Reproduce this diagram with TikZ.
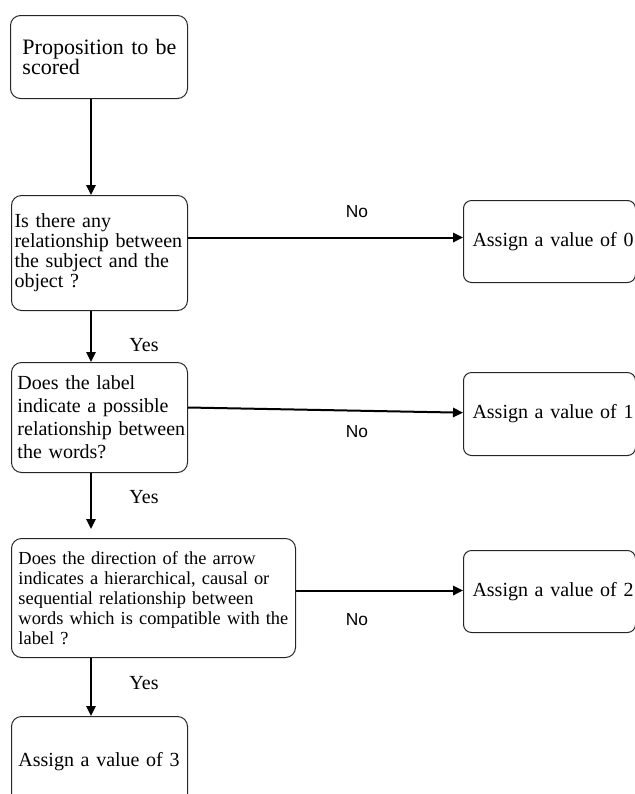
\documentclass[tikz,border=0pt]{standalone}
\usepackage{fontspec}
\setmainfont{Liberation Serif}
\newfontfamily\nofont{Liberation Sans}
\usetikzlibrary{arrows.meta}
\begin{document}
\begin{tikzpicture}[x=0.75pt,y=-0.75pt,
  box/.style={draw=black!85, line width=0.75pt, rounded corners=7.5pt, anchor=north west, align=left, inner ysep=0pt},
  vbox/.style={box, rounded corners=6pt, minimum width=129pt, inner xsep=6.75pt, text width=115.5pt, font=\fontsize{15}{15}\selectfont},
  arr/.style={line width=1.5pt, -{Triangle[length=7.5pt,width=7pt]}},
  yes/.style={inner sep=0pt, font=\fontsize{15}{15}\selectfont},
  no/.style={inner sep=0pt, font=\nofont\fontsize{13}{13}\selectfont}]
\useasboundingbox (0,0) rectangle (635,794);
\clip (0,0) rectangle (635,794);

\node[box, minimum width=132.75pt, minimum height=62.25pt, inner xsep=9pt, text width=114.75pt,
  font=\fontsize{16.5}{15}\selectfont] (b1) at (10,15) {\mbox{Proposition to be}\\ \mbox{scored}};
\node[box, minimum width=132pt, minimum height=86.25pt, inner xsep=2.25pt, text width=127.5pt,
  font=\fontsize{15}{15}\selectfont] (b2) at (11,195) {\mbox{Is there any}\\ \mbox{relationship between}\\ \mbox{the subject and the}\\ \mbox{object ?}\\[2pt]};
\node[box, minimum width=132pt, minimum height=82.5pt, inner xsep=4.5pt, text width=123pt,
  font=\fontsize{15}{17.25}\selectfont] (b3) at (11,362) {\mbox{Does the label}\\ \mbox{indicate a possible}\\ \mbox{relationship between}\\ \mbox{the words?}};
\node[box, minimum width=213pt, minimum height=89.25pt, inner xsep=5.25pt, text width=202.5pt,
  font=\fontsize{13.8}{15}\selectfont] (b4) at (11,538) {\mbox{Does the direction of the arrow}\\ \mbox{indicates a hierarchical, causal or}\\ \mbox{sequential relationship between}\\ \mbox{words which is compatible with the}\\ \mbox{label ?}};
\node[box, minimum width=132pt, minimum height=67.5pt, inner xsep=5.25pt, text width=121.5pt,
  font=\fontsize{15}{15}\selectfont] (b5) at (11,716) {\mbox{Assign a value of 3}};

\node[vbox, minimum height=61.5pt] (v0) at (463,200) {\mbox{Assign a value of 0}};
\node[vbox, minimum height=62.25pt] (v1) at (463,372) {\mbox{Assign a value of 1}};
\node[vbox, minimum height=61.5pt] (v2) at (463,550) {\mbox{Assign a value of 2}};

\coordinate (col) at (91,0);
\coordinate (t4) at (91,529);
\draw[arr] (b1.south -| col) -- (b2.north -| col);
\draw[arr] (b2.south -| col) -- (b3.north -| col);
\draw[arr] (b3.south -| col) -- (t4);
\draw[arr] (b4.south -| col) -- (b5.north -| col);

\coordinate (h0) at ([yshift=11.6pt]b2.east);
\draw[arr] (h0) -- (h0 -| v0.west);
\draw[arr] ([yshift=7.5pt]b3.east) -- ([yshift=1pt]v1.west);
\coordinate (h2) at ([yshift=5.6pt]b4.east);
\draw[arr] (h2) -- (h2 -| v2.west);

\node[no] (n0) at (357,212) {No};
\node[no] (n1) at (357,432) {No};
\node[no] (n2) at (357,620) {No};
\node[yes] (y1) at (144,345) {Yes};
\node[yes] (y2) at (144,497) {Yes};
\node[yes] (y3) at (144,683) {Yes};
\end{tikzpicture}
\end{document}
